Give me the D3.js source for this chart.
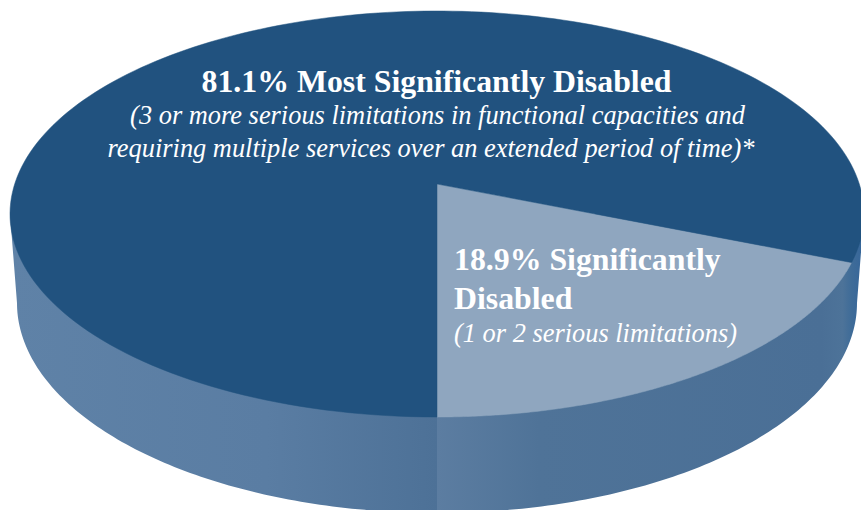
<!DOCTYPE html>
<html lang="en">
<head>
<meta charset="UTF-8">
<title>Significance of disability</title>
<style>
    html, body { margin: 0; padding: 0; background: #fff; }
    svg { display: block; }
    text { font-family: "Liberation Serif", serif; fill: #fff; }
    .head { font-weight: bold; font-size: 31.8px; }
    .note { font-style: italic; font-size: 26.4px; }
</style>
</head>
<body>
<script src="https://cdnjs.cloudflare.com/ajax/libs/d3/7.8.5/d3.min.js"></script>
<script>
// values
var categories = ['Significantly Disabled', 'Most Significantly Disabled'];
var shares = [18.9, 81.1];
var sliceColors = ['#8fa6bf', '#21527f'];

var headLines = ['81.1% Most Significantly Disabled', '18.9% Significantly', 'Disabled'];
var noteLines = [
    '(3 or more serious limitations in functional capacities and',
    'requiring multiple services over an extended period of time)*',
    '(1 or 2 serious limitations)'
];
var wallStops = [
    [0, '#5f82a7'], [0.3, '#5a7da3'], [0.5, '#4d7197'], [0.5, '#5c7da1'],
    [0.62, '#4f7398'], [0.95, '#4a6f96'], [0.975, '#4d7399'], [0.985, '#3f6c98'], [1, '#35659a']
];

var width = 861, height = 510;
var topCx = 437, topCy = 214, topRx = 427, topRy = 203;
var hubY = 184;   // where the pie centre lands in the tilted view
var lowCy = 303, lowRx = 420, lowRy = 210;

var svg = d3.select('body').append('svg').attr('width', width).attr('height', height);

// circle -> tilted ellipse, the centre moves up like in a real perspective
var a = (hubY - topCy) / topRy;
function project(angle) {
    var u = Math.sin(angle), v = Math.cos(angle);
    var w = 1 + a * v;
    return [
        topCx + topRx * u * Math.sqrt(1 - a * a) / w,
        topCy + topRy * (v + a) / w
    ];
}

// angle 0 points at the viewer, the small slice runs from there to the right
var pie = d3.pie().sort(null).value(function (d) { return d; })(shares);
var line = d3.line();

function slicePath(d) {
    var pts = [[topCx, hubY]];
    d3.range(0, 201).forEach(function (i) {
        pts.push(project(d.startAngle + (d.endAngle - d.startAngle) * i / 200));
    });
    return line(pts) + 'Z';
}

// side wall
var grad = svg.append('defs').append('linearGradient').attr('id', 'wall');
grad.selectAll('stop').data(wallStops).enter().append('stop')
    .attr('offset', function (d) { return d[0]; })
    .attr('stop-color', function (d) { return d[1]; });

var wallPts = [[topCx - topRx, topCy]];
d3.range(0, 201).forEach(function (i) {
    var t = Math.PI * i / 200;
    wallPts.push([topCx - lowRx * Math.cos(t), lowCy + lowRy * Math.sin(t)]);
});
wallPts.push([topCx + topRx, topCy]);
svg.append('path').attr('d', line(wallPts) + 'Z').attr('fill', 'url(#wall)');

// top face
svg.selectAll('.slice').data(pie).enter().append('path')
    .attr('class', 'slice')
    .attr('d', slicePath)
    .attr('fill', function (d, i) { return sliceColors[i]; })
    .attr('stroke', function (d, i) { return sliceColors[i]; })
    .attr('stroke-width', 0.5)
    .append('title').text(function (d, i) { return categories[i]; });

// labels
svg.append('text').attr('class', 'head').attr('x', 436.5).attr('y', 92).attr('text-anchor', 'middle').text(headLines[0]);
svg.append('text').attr('class', 'note').attr('x', 437.5).attr('y', 124).attr('text-anchor', 'middle').text(noteLines[0]);
svg.append('text').attr('class', 'note').attr('x', 431).attr('y', 157).attr('text-anchor', 'middle').text(noteLines[1]);
svg.append('text').attr('class', 'head').attr('x', 454).attr('y', 270).text(headLines[1]);
svg.append('text').attr('class', 'head').attr('x', 454).attr('y', 309).text(headLines[2]);
svg.append('text').attr('class', 'note').attr('x', 454).attr('y', 342).text(noteLines[2]);
</script>
</body>
</html>
